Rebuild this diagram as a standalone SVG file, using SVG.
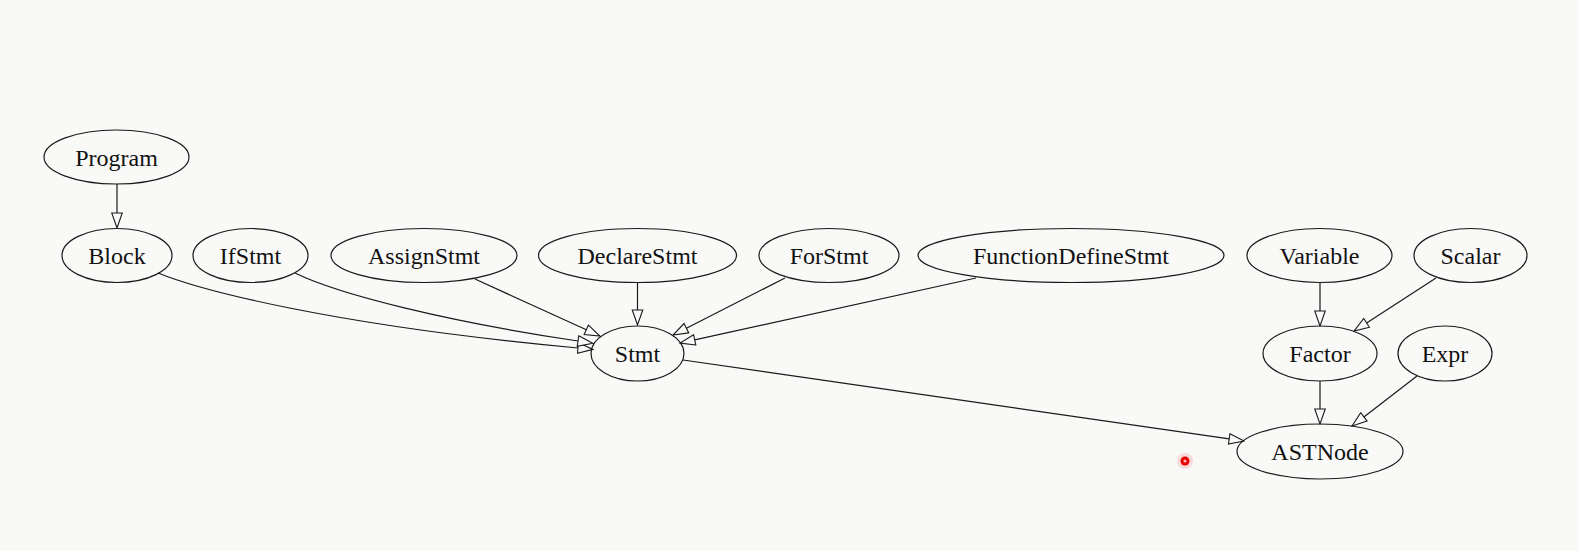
<svg xmlns="http://www.w3.org/2000/svg" width="1579" height="551" viewBox="0 0 1579 551">
<style>
.n ellipse{fill:none;stroke:#1a1a1a;stroke-width:1.2}
.n text{font-family:"Liberation Serif","Times New Roman",serif;font-size:24px;fill:#111;text-anchor:middle}
#edges path{fill:none;stroke:#1a1a1a;stroke-width:1.2;marker-end:url(#arr)}
</style>
<defs>
<marker id="arr" viewBox="-1 -1 17 12.5" refX="0" refY="5.25" markerWidth="17" markerHeight="12.5" markerUnits="userSpaceOnUse" orient="auto">
<path d="M0,0 L15,5.25 L0,10.5 Z" fill="#f9f9f8" stroke="#1a1a1a" stroke-width="1.1"/>
</marker>
</defs>
<rect width="1579" height="551" fill="#f9f9f8"/>
<g id="edges">
<path d="M117,184 L117,213"/>
<path d="M158,273 C200,290 330,325 578,348"/>
<path d="M295,273 C340,295 450,322 578,341"/>
<path d="M475,279 L586.3,329.8"/>
<path d="M637.5,283 L637.5,310"/>
<path d="M785,278 L686.4,328.2"/>
<path d="M976,278 L694.7,339.8"/>
<path d="M683,360 L1229.2,438.9"/>
<path d="M1320,283 L1320,311"/>
<path d="M1436,278 L1366.6,322.9"/>
<path d="M1320,381 L1320,409"/>
<path d="M1417,376 L1363.9,416.9"/>
</g>
<g id="Program" class="n"><ellipse cx="116.5" cy="157" rx="72.5" ry="27"/><text x="116.5" y="165.5">Program</text></g>
<g id="Block" class="n"><ellipse cx="117" cy="255.5" rx="55" ry="27"/><text x="117" y="264">Block</text></g>
<g id="IfStmt" class="n"><ellipse cx="250.5" cy="255.5" rx="57.5" ry="27"/><text x="250.5" y="264">IfStmt</text></g>
<g id="AssignStmt" class="n"><ellipse cx="424" cy="255.5" rx="93" ry="27"/><text x="424" y="264">AssignStmt</text></g>
<g id="DeclareStmt" class="n"><ellipse cx="637.5" cy="255.5" rx="99" ry="27"/><text x="637.5" y="264">DeclareStmt</text></g>
<g id="ForStmt" class="n"><ellipse cx="829" cy="255.5" rx="70" ry="27"/><text x="829" y="264">ForStmt</text></g>
<g id="FunctionDefineStmt" class="n"><ellipse cx="1071" cy="255.5" rx="153" ry="27"/><text x="1071" y="264">FunctionDefineStmt</text></g>
<g id="Variable" class="n"><ellipse cx="1319.5" cy="255.5" rx="72.5" ry="27"/><text x="1319.5" y="264">Variable</text></g>
<g id="Scalar" class="n"><ellipse cx="1470.5" cy="255.5" rx="56.5" ry="27"/><text x="1470.5" y="264">Scalar</text></g>
<g id="Stmt" class="n"><ellipse cx="637.5" cy="353.5" rx="46.5" ry="27.5"/><text x="637.5" y="362">Stmt</text></g>
<g id="Factor" class="n"><ellipse cx="1320" cy="353.5" rx="57" ry="27.5"/><text x="1320" y="362">Factor</text></g>
<g id="Expr" class="n"><ellipse cx="1445" cy="353.5" rx="47" ry="27.5"/><text x="1445" y="362">Expr</text></g>
<g id="ASTNode" class="n"><ellipse cx="1320" cy="451.5" rx="83" ry="27.5"/><text x="1320" y="460">ASTNode</text></g>
<g id="cursor">
<circle cx="1185" cy="461" r="8" fill="#ff0000" opacity="0.12"/>
<circle cx="1185" cy="461" r="4.5" fill="#e60000"/>
<circle cx="1185" cy="461" r="1.6" fill="#ffb0b0"/>
</g>
</svg>
